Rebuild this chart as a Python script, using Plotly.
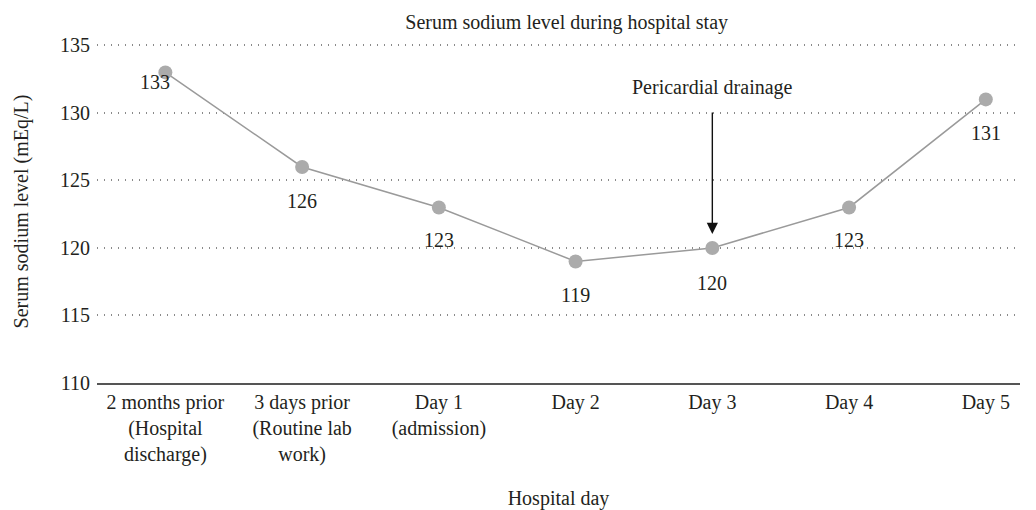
import plotly.graph_objects as go

categories = [
    "2 months prior<br>(Hospital<br>discharge)",
    "3 days prior<br>(Routine lab<br>work)",
    "Day 1<br>(admission)",
    "Day 2",
    "Day 3",
    "Day 4",
    "Day 5",
]
sodium = [133, 126, 123, 119, 120, 123, 131]
label_shift = [-10, -34, -33, -34, -35, -33, -34]
label_xshift = [-10, 0, 0, 0, 0, 0, 0]
y_ticks = [110, 115, 120, 125, 130, 135]

FONT = "Liberation Serif"
FS = 20
TXT = "#231f20"
x_idx = list(range(len(categories)))

fig = go.Figure()
fig.add_trace(go.Scatter(
    x=x_idx, y=sodium, mode="lines+markers",
    line=dict(color="#9a9a9a", width=1.5),
    marker=dict(color="#ababab", size=14, symbol="circle"),
    showlegend=False, hoverinfo="skip", cliponaxis=False,
))

for i, v in zip(x_idx, sodium):
    fig.add_annotation(
        x=i, y=v, text=str(v), showarrow=False,
        yshift=label_shift[i], xshift=label_xshift[i],
        font=dict(family=FONT, size=FS, color=TXT),
    )

day3 = categories.index("Day 3")
fig.add_annotation(
    x=day3, y=sodium[day3], text="", showarrow=True,
    ax=0, ay=-137, axref="pixel", ayref="pixel",
    arrowhead=2, arrowsize=1.6, arrowwidth=1.4, arrowcolor="#111",
    standoff=14,
)
fig.add_annotation(
    x=day3, y=sodium[day3], text="Pericardial drainage", showarrow=False,
    yshift=160, font=dict(family=FONT, size=FS, color=TXT),
)

fig.update_layout(
    width=1036, height=510,
    margin=dict(l=97, r=16, t=40, b=127),
    paper_bgcolor="white", plot_bgcolor="white",
    font=dict(family=FONT, size=FS, color=TXT),
    title=dict(text="Serum sodium level during hospital stay", x=0.547, xanchor="center",
               y=0.957, yanchor="middle", font=dict(family=FONT, size=FS, color=TXT)),
    xaxis=dict(
        tickmode="array", tickvals=x_idx, ticktext=categories,
        range=[-0.5, 6.25], showgrid=False, zeroline=False,
        showline=True, linecolor="#555", linewidth=2, ticks="",
        automargin=False,
        tickfont=dict(family=FONT, size=FS, color=TXT),
        title=dict(text="Hospital day", standoff=37,
                   font=dict(family=FONT, size=FS, color=TXT)),
    ),
    yaxis=dict(
        range=[110, 135.4], tickvals=y_ticks, showgrid=True,
        gridcolor="#8a8a8a", griddash="1px,6px", gridwidth=1.5,
        zeroline=False, showline=False, ticks="", automargin=False,
        ticklabelstandoff=6,
        tickfont=dict(family=FONT, size=FS, color=TXT),
        title=dict(text="Serum sodium level (mEq/L)", standoff=26,
                   font=dict(family=FONT, size=FS, color=TXT)),
    ),
)

fig.write_html("out.html", post_script="document.body.style.margin='0';",
               config={"displayModeBar": False})
